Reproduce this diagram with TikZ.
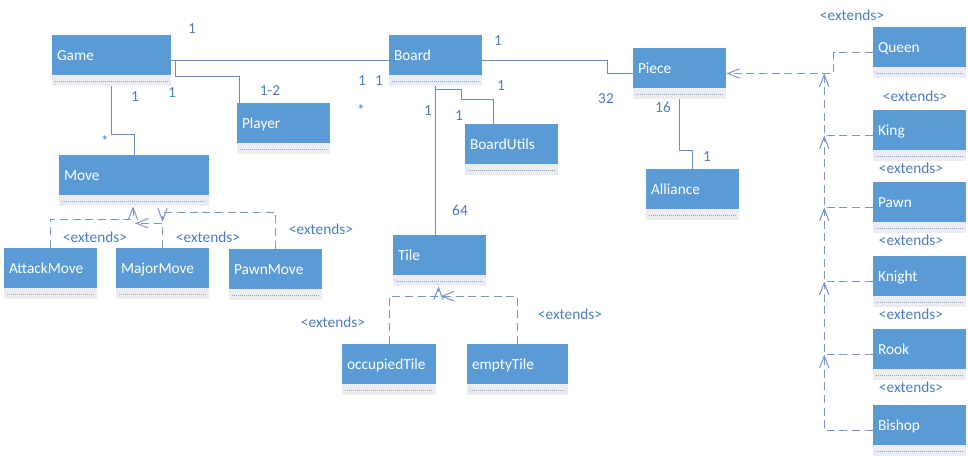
\documentclass[tikz,border=0pt]{standalone}
\usepackage{fontspec}
\setmainfont{Carlito}
\usepackage{tikz}
\usetikzlibrary{positioning,calc}
\usetikzlibrary{arrows.meta}
\newdimen\px \px=0.75pt
\definecolor{clsblue}{RGB}{91,155,213}
\definecolor{clsstrip}{RGB}{234,236,240}
\definecolor{stripdots}{RGB}{140,165,205}
\definecolor{linecol}{RGB}{105,140,195}
\definecolor{dashcol}{RGB}{120,150,200}
\definecolor{labelcol}{RGB}{75,125,190}
\tikzset{
    umlclass/.style={
           rectangle,
           fill=clsstrip,
           minimum height=51\px,
           inner xsep=5\px,
           inner ysep=0pt,
           text width=#1\px,
           align=left,
           text=white,
           text height=0pt,
           text depth=0pt,
           font=\fontsize{11.5}{13}\selectfont,
           path picture={
             \fill[clsblue] (path picture bounding box.north west) rectangle ([yshift=11\px]path picture bounding box.south east);
             \draw[stripdots,densely dotted,line width=0.5pt] ([xshift=3\px,yshift=5\px]path picture bounding box.south west) -- ([xshift=-3\px,yshift=5\px]path picture bounding box.south east);
           },
           },
    umlclass/.default=83,
    mult/.style={
           text=labelcol,
           inner sep=0pt,
           font=\fontsize{11.5}{13}\selectfont,
           },
    assoc/.style={draw=linecol, line width=0.75pt},
    inherit/.style={draw=dashcol, line width=0.75pt, dash pattern=on 6pt off 3.5pt, ->},
}
\begin{document}
\begin{tikzpicture}
[
x=0.75pt, y=-0.75pt,
>={Straight Barb[length=9pt,width=7pt]}
]
\useasboundingbox (0,0) rectangle (968,458);

 % Game sits top left
 \node[umlclass=109] (GAME) at (111.5,60.5)
 {%
Game
 };

 % Board, same row as Game
 \node[umlclass,
 node distance=324\px,
 right of=GAME] (BOARD)
 {%
Board
 };

 \node[umlclass] (PLAYER) at (283.5,128.5)
 {%
Player
 };

 \node[umlclass] (UTILS) at (511.5,149.5)
 {%
BoardUtils
 };

 \node[umlclass] (PIECE) at (679.5,73.5)
 {%
Piece
 };

 \node[umlclass] (ALLIANCE) at (692.5,194.5)
 {%
Alliance
 };

 % the pieces, one column on the right
 \node[umlclass] (QUEEN) at (919.5,52.5)
 {%
Queen
 };

 \node[umlclass,
 node distance=83\px,
 below of=QUEEN] (KING)
 {%
King
 };

 \node[umlclass,
 node distance=72\px,
 below of=KING] (PAWN)
 {%
Pawn
 };

 \node[umlclass,
 node distance=74\px,
 below of=PAWN] (KNIGHT)
 {%
Knight
 };

 \node[umlclass,
 node distance=73\px,
 below of=KNIGHT] (ROOK)
 {%
Rook
 };

 \node[umlclass,
 node distance=76\px,
 below of=ROOK] (BISHOP)
 {%
Bishop
 };

 % moves
 \node[umlclass=140] (MOVE) at (134,180.5)
 {%
Move
 };

 \node[umlclass] (ATTACK) at (50.5,273.5)
 {%
AttackMove
 };

 \node[umlclass,
 node distance=112\px,
 right of=ATTACK] (MAJOR)
 {%
MajorMove
 };

 \node[umlclass] (PAWNMOVE) at (275.5,274.5)
 {%
PawnMove
 };

 % tiles
 \node[umlclass] (TILE) at (439.5,260.5)
 {%
Tile
 };

 \node[umlclass=84] (OCCTILE) at (389,369.5)
 {%
occupiedTile
 };

 \node[umlclass=91,
 node distance=128.5\px,
 right of=OCCTILE] (EMPTYTILE)
 {%
emptyTile
 };

 % associations
 \draw[assoc] (GAME) -- (BOARD);
 \draw[assoc] (GAME.east) -- ++(4,0) |- ($(PLAYER.north)+(-44.5,-26)$) -- ($(PLAYER.north)+(-44.5,0)$);
 \draw[assoc] (GAME.south) |- ($(MOVE.north)+(0,-20)$) -- (MOVE.north);
 \draw[assoc] (BOARD.east) -| ($(PIECE.west)+(-25,0)$) -- (PIECE.west);
 \draw[assoc] (BOARD.south) -- (BOARD.south |- TILE.north);
 \draw[assoc] (BOARD.south) -- ++(0,3) -- ++(26,0) -- ++(0,10) -| ($(UTILS.north)+(-18.5,0)$);
 \draw[assoc] (PIECE.south) |- ($(ALLIANCE.north)+(0,-18)$) -- (ALLIANCE.north);

 % extends, pieces
 \coordinate (JOIN) at ($(PIECE.east)+(98,0)$);
 \draw[inherit] (QUEEN.west) -- ++(-39,0) |- (PIECE.east);
 \draw[inherit] (KING.west) -| (JOIN);
 \draw[inherit] (PAWN.west) -| (JOIN |- KING.west);
 \draw[inherit] (KNIGHT.west) -| (JOIN |- PAWN.west);
 \draw[inherit] (ROOK.west) -| (JOIN |- KNIGHT.west);
 \draw[inherit] (BISHOP.west) -| (JOIN |- ROOK.west);

 % extends, moves and tiles
 \draw[inherit] (ATTACK.north) |- ($(MOVE.south)+(-1,13)$) -- ($(MOVE.south)+(-1,0)$);
 \draw[inherit] (MAJOR.north) |- ($(MOVE.south)+(1,17)$);
 \draw[inherit] (PAWNMOVE.north) |- ($(MAJOR.north)+(0,-35)$) -- ($(MAJOR.north)+(0,-26)$);
 \draw[inherit] (OCCTILE.north) |- ($(TILE.south)+(-1,10)$) -- ($(TILE.south)+(-1,0)$);
 \draw[inherit] (EMPTYTILE.north) |- ($(TILE.south)+(1,10)$);

 % multiplicities
 \node[mult] (MGB) at (192,29) {1};
 \node[mult] (MGM) at (135,97) {1};
 \node[mult] (MGP) at (172,93) {1};
 \node[mult] (MPG) at (270,91) {1-2};
 \node[mult] (MMG) at (105,141) {*};
 \node[mult] (MBG) at (362,81) {1};
 \node[mult] (MBG2) at (379,81) {1};
 \node[mult] (MBS) at (361,110) {*};
 \node[mult] (MBP) at (498,41) {1};
 \node[mult] (MBU) at (501,86) {1};
 \node[mult] (MBT) at (428,111) {1};
 \node[mult] (MUB) at (459,116) {1};
 \node[mult] (MPB) at (606,99) {32};
 \node[mult] (MPA) at (663,107) {16};
 \node[mult] (MAP) at (707,157) {1};
 \node[mult] (MTB) at (460,210) {64};

 % extends labels
 \node[mult] (EQUEEN) at (852,15) {<extends>};
 \node[mult] (EKING) at (915,96) {<extends>};
 \node[mult] (EPAWN) at (911,168) {<extends>};
 \node[mult] (EKNIGHT) at (911,240) {<extends>};
 \node[mult] (EROOK) at (911,314) {<extends>};
 \node[mult] (EBISHOP) at (911,387) {<extends>};
 \node[mult] (EATTACK) at (95,237) {<extends>};
 \node[mult] (EMAJOR) at (208,237) {<extends>};
 \node[mult] (EPAWNMOVE) at (321,229) {<extends>};
 \node[mult] (EOCC) at (333,322) {<extends>};
 \node[mult] (EEMPTY) at (570,314) {<extends>};
\end{tikzpicture}
\end{document}
